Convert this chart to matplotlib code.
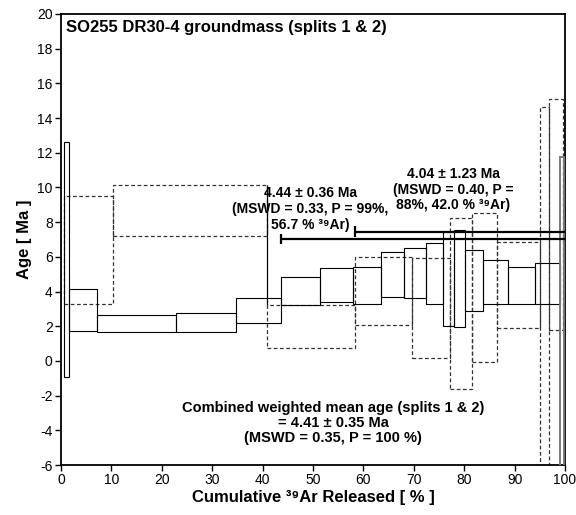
import matplotlib
matplotlib.use("Agg")
import matplotlib.pyplot as plt

plt.rcParams['font.family'] = ['Liberation Sans', 'DejaVu Sans']
plt.rcParams['axes.unicode_minus'] = False

# Split 1 (solid step boxes): cumulative 39Ar edges and age envelopes
s1_left = [0.6, 1.6, 7.1, 22.8, 34.7, 43.6, 51.3, 57.9, 63.4, 68.1, 72.4, 75.8, 78.0, 80.2, 83.7, 88.6, 94.0]
s1_right = [1.6, 7.1, 22.8, 34.7, 43.6, 51.3, 57.9, 63.4, 68.1, 72.4, 75.8, 78.0, 80.2, 83.7, 88.6, 94.0, 99.0]
s1_low = [-0.92, 1.73, 1.69, 1.65, 2.2, 3.23, 3.42, 3.27, 3.67, 3.63, 3.27, 2.04, 1.98, 2.88, 3.29, 3.29, 3.29]
s1_high = [12.6, 4.15, 2.63, 2.75, 3.65, 4.86, 5.38, 5.43, 6.26, 6.5, 6.82, 7.45, 7.55, 6.38, 5.82, 5.44, 5.67]

# Last split-1 step (grey, off-scale low)
s1_last = dict(left=99.0, right=99.7, low=-30.0, high=11.74)

# Split 2 (dashed step boxes)
s2_left = [0.6, 10.4, 40.8, 58.4, 69.7, 77.2, 81.5, 86.4, 95.0, 96.9]
s2_right = [10.4, 40.8, 58.4, 69.7, 77.2, 81.5, 86.4, 95.0, 96.9, 99.5]
s2_low = [3.29, 7.22, 0.77, 2.07, 0.15, -1.63, -0.04, 1.92, -30.0, 1.79]
s2_high = [9.51, 10.14, 3.23, 6.0, 5.92, 8.22, 8.51, 6.88, 14.66, 15.08]

# Plateau bars
plateau_start = [43.6, 58.4]
plateau_age = [7.03, 7.45]
plateau_end = 100.0

xticks = list(range(0, 101, 10))
yticks = list(range(-6, 21, 2))

fig = plt.figure(figsize=(5.76, 5.15), dpi=100)
ax = fig.add_axes([0.106, 0.097, 0.875, 0.876])

w2 = [r - l for l, r in zip(s2_left, s2_right)]
h2 = [h - l for l, h in zip(s2_low, s2_high)]
ax.bar(s2_left, h2, width=w2, bottom=s2_low, align='edge', fill=False,
       edgecolor='#333333', linewidth=0.9, linestyle=(0, (3, 2)), zorder=2)

w1 = [r - l for l, r in zip(s1_left, s1_right)]
h1 = [h - l for l, h in zip(s1_low, s1_high)]
ax.bar(s1_left, h1, width=w1, bottom=s1_low, align='edge', fill=False,
       edgecolor='black', linewidth=0.8, zorder=3)

ax.bar([s1_last['left']], [s1_last['high'] - s1_last['low']],
       width=[s1_last['right'] - s1_last['left']], bottom=[s1_last['low']],
       align='edge', fill=False, edgecolor='#7a7a7a', linewidth=1.4, zorder=3)

# solid connector at start of split-2 step 3
ax.vlines(s2_left[2], s2_high[2], s2_high[1], color='black', linewidth=0.9, zorder=3)

for xs, ya in zip(plateau_start, plateau_age):
    ax.hlines(ya, xs, plateau_end, color='black', linewidth=1.6, zorder=4)
    ax.vlines(xs, ya - 0.3, ya + 0.3, color='black', linewidth=1.6, zorder=4)

ax.set_xlim(0, 100)
ax.set_ylim(-6, 20)
ax.set_xticks(xticks)
ax.set_yticks(yticks)
ax.tick_params(direction='out', length=4, width=1.0, labelsize=10, pad=2)
for sp in ax.spines.values():
    sp.set_linewidth(1.3)

ax.set_xlabel('Cumulative \u00b3\u2079Ar Released [ % ]', fontsize=12, fontweight='bold', labelpad=2)
ax.set_ylabel('Age [ Ma ]', fontsize=12, fontweight='bold', labelpad=4)

ax.text(1.0, 19.2, 'SO255 DR30-4 groundmass (splits 1 & 2)', fontsize=12,
        fontweight='bold', ha='left', va='center')
ax.text(49.4, 8.76, '4.44 \u00b1 0.36 Ma\n(MSWD = 0.33, P = 99%,\n56.7 % \u00b3\u2079Ar)',
        fontsize=10, fontweight='bold', ha='center', va='center',
        multialignment='center', linespacing=1.15, zorder=5)
ax.text(77.8, 9.86, '4.04 \u00b1 1.23 Ma\n(MSWD = 0.40, P =\n88%, 42.0 % \u00b3\u2079Ar)',
        fontsize=10, fontweight='bold', ha='center', va='center',
        multialignment='center', linespacing=1.15, zorder=5)
ax.text(54.0, -3.57, 'Combined weighted mean age (splits 1 & 2)\n= 4.41 \u00b1 0.35 Ma\n(MSWD = 0.35, P = 100 %)',
        fontsize=10.5, fontweight='bold', ha='center', va='center',
        multialignment='center', linespacing=1.1, zorder=5)

fig.savefig('out.png', dpi=100)
